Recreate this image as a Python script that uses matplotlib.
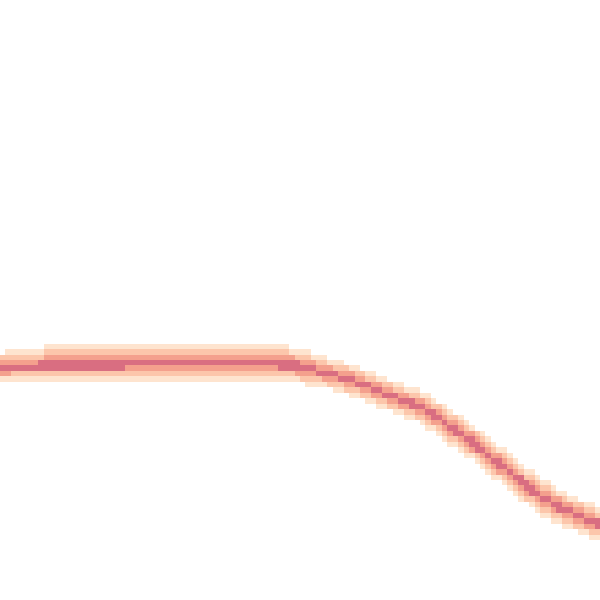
import numpy as np
import matplotlib.pyplot as plt
from matplotlib.colors import ListedColormap

# centre of the band (x 0-100, y 0-100 upwards)
x = [0, 6, 8, 17, 25, 33, 42, 48, 50, 52.8, 55.5, 58.3, 61.2, 63.8, 67.2,
     70.0, 71.7, 74.2, 76.7, 78.3, 80.3, 82.8, 85.0, 86.7, 88.3, 90.5,
     92.8, 95.0, 97.2, 100]
centre = [38.8, 39.0, 39.2, 39.2, 39.3, 39.3, 39.3, 39.2, 39.0, 38.2, 37.5,
          36.7, 35.7, 34.5, 33.2, 32.2, 31.2, 29.5, 27.7, 26.7, 24.8, 23.0,
          21.3, 20.0, 18.5, 17.0, 15.7, 14.7, 13.7, 12.5]
# half width of the palest part of the band
outer = [2.5, 2.6, 3.2, 3.2, 3.2, 3.2, 3.2, 3.1, 2.9, 2.7, 2.6, 2.6, 2.6,
         2.6, 2.7, 2.8, 2.9, 3.0, 3.1, 3.1, 3.1, 3.1, 3.1, 3.1, 3.1, 3.1,
         3.0, 2.9, 2.9, 2.9]

# share of the outer width each shade covers, palest first
levels = [1.0, 0.72, 0.45, 0.19]
shades = ["#fee4cf", "#fcc6ab", "#f4a08d", "#d96e81"]

n_bins = 110
edges = np.linspace(0, 100, n_bins + 1)
mids = (edges[:-1] + edges[1:]) / 2

# which shade each cell gets, from its distance to the band centre
cy = np.interp(mids, x, centre)
cw = np.interp(mids, x, outer)
dist = np.abs(mids[:, None] - cy[None, :]) / cw[None, :]
grid = sum((dist <= f).astype(int) for f in levels)

fig, ax = plt.subplots(figsize=(6, 6), dpi=100)
fig.subplots_adjust(0, 0, 1, 1)
cmap = ListedColormap(["white"] + shades)
ax.pcolormesh(edges, edges, grid, cmap=cmap, vmin=-0.5, vmax=4.5)
ax.set_xlim(0, 100)
ax.set_ylim(0, 100)
ax.axis("off")

fig.savefig("out.png", dpi=100, facecolor="white")
